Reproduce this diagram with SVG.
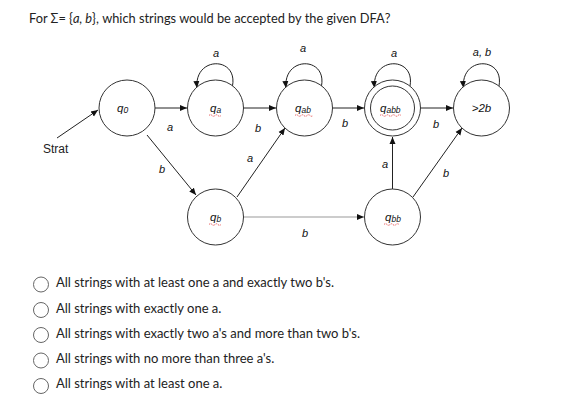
<svg xmlns="http://www.w3.org/2000/svg" width="584" height="418" viewBox="0 0 584 418">
<style>
.st{fill:#fff;stroke:#333;stroke-width:1}
.ed{fill:none;stroke:#222;stroke-width:1}
.lb{font-family:"Liberation Sans",Arial,sans-serif;font-style:italic;font-size:11px;fill:#111}
.nl{font-family:"Liberation Sans",Arial,sans-serif;font-style:italic;font-size:11.5px;fill:#111}
.sub{font-size:8.5px}
.tt{font-family:Lato,"Liberation Sans",sans-serif;font-size:12.8px;fill:#222}
.tx{font-family:Lato,"Liberation Sans",sans-serif;font-size:13px;fill:#222}
.rd{fill:#fff;stroke:#666;stroke-width:1}
.sq{fill:none;stroke:#e03030;stroke-width:0.8;stroke-dasharray:1.2 0.8}
</style>
<defs>
<marker id="ah" markerWidth="8" markerHeight="8" refX="7" refY="4" orient="auto" markerUnits="userSpaceOnUse">
<path d="M0,1 L7,4 L0,7 Z" fill="#111"/>
</marker>
</defs>
<rect width="584" height="418" fill="#fff"/>
<text class="tt" x="29" y="22.5">For Σ= {<tspan font-style="italic">a, b</tspan>}, which strings would be accepted by the given DFA?</text>

<g id="connectors">
<line class="ed" x1="57" y1="138" x2="98" y2="110" marker-end="url(#ah)"/>
<line class="ed" x1="155" y1="108" x2="187" y2="108" marker-end="url(#ah)"/>
<line class="ed" x1="243" y1="108" x2="276" y2="108" marker-end="url(#ah)"/>
<line class="ed" x1="332" y1="108" x2="364" y2="108" marker-end="url(#ah)"/>
<line class="ed" x1="420" y1="108" x2="453" y2="108" marker-end="url(#ah)"/>
<line class="ed" x1="147" y1="135" x2="196" y2="195" marker-end="url(#ah)"/>
<line class="ed" x1="237" y1="197" x2="285" y2="128" marker-end="url(#ah)"/>
<line x1="243" y1="217" x2="364" y2="217" stroke="#bbb" stroke-width="1.5"/>
<path d="M357,214 L364,217 L357,220 Z" fill="#111"/>
<line class="ed" x1="392.5" y1="189" x2="392.5" y2="137" marker-end="url(#ah)"/>
<line class="ed" x1="413" y1="197" x2="462" y2="128" marker-end="url(#ah)"/>
<path class="ed" d="M232.5,86 C238,56 194,56 197,88" marker-end="url(#ah)"/>
<path class="ed" d="M321.5,86 C327,56 283,56 286,88" marker-end="url(#ah)"/>
<path class="ed" d="M410,86 C415.5,56 371.5,56 374.5,88" marker-end="url(#ah)"/>
<path class="ed" d="M499,86 C504.5,56 460.5,56 463.5,88" marker-end="url(#ah)"/>
<text class="lb" x="170" y="131" text-anchor="middle">a</text>
<text class="lb" x="258" y="132" text-anchor="middle">b</text>
<text class="lb" x="345" y="127" text-anchor="middle">b</text>
<text class="lb" x="436" y="128" text-anchor="middle">b</text>
<text class="lb" x="216" y="57" text-anchor="middle">a</text>
<text class="lb" x="303" y="52" text-anchor="middle">a</text>
<text class="lb" x="394" y="57" text-anchor="middle">a</text>
<text class="lb" x="482" y="56" text-anchor="middle">a, b</text>
<text class="lb" x="162" y="173" text-anchor="middle">b</text>
<text class="lb" x="250" y="162" text-anchor="middle">a</text>
<text class="lb" x="305" y="236.5" text-anchor="middle">b</text>
<text class="lb" x="385" y="168" text-anchor="middle">a</text>
<text class="lb" x="446" y="176.5" text-anchor="middle">b</text>
<text x="43" y="153" font-family="Liberation Sans,Arial,sans-serif" font-size="12" fill="#222">Strat</text>
</g>

<g id="q0">
<circle class="st" cx="127" cy="108" r="28"/>
<text class="nl" x="117" y="112">q<tspan class="sub" dy="1">0</tspan></text>
</g>
<g id="qa">
<circle class="st" cx="215.5" cy="108" r="28"/>
<text class="nl" x="210" y="112">q<tspan class="sub" dy="1">a</tspan></text>
<path class="sq" d="M209,115.5 q1.5,-1.5 3,0 t3,0 t3,0 t3,0"/>
</g>
<g id="qab">
<circle class="st" cx="304.5" cy="108" r="28"/>
<text class="nl" x="295" y="112">q<tspan class="sub" dy="1">ab</tspan></text>
<path class="sq" d="M295,115.5 q1.5,-1.5 3,0 t3,0 t3,0 t3,0 t3,0 t3,0"/>
</g>
<g id="qabb">
<circle class="st" cx="392.5" cy="108" r="28"/>
<circle class="st" cx="392.5" cy="108" r="22"/>
<text class="nl" x="380" y="112">q<tspan class="sub" dy="1">abb</tspan></text>
<path class="sq" d="M380,115.5 q1.5,-1.5 3,0 t3,0 t3,0 t3,0 t3,0 t3,0 t3,0"/>
</g>
<g id="gt2b">
<circle class="st" cx="481.5" cy="108" r="28"/>
<text class="nl" x="481.5" y="112" text-anchor="middle" font-size="12.5">&gt;2b</text>
</g>
<g id="qb">
<circle class="st" cx="215.5" cy="217" r="28"/>
<text class="nl" x="210" y="221">q<tspan class="sub" dy="1">b</tspan></text>
<path class="sq" d="M209,224.5 q1.5,-1.5 3,0 t3,0 t3,0 t3,0"/>
</g>
<g id="qbb">
<circle class="st" cx="392.5" cy="217" r="28"/>
<text class="nl" x="385" y="221">q<tspan class="sub" dy="1">bb</tspan></text>
<path class="sq" d="M384,224.5 q1.5,-1.5 3,0 t3,0 t3,0 t3,0 t3,0"/>
</g>

<g id="options">
<circle class="rd" cx="41" cy="284.5" r="7.5"/>
<text class="tx" x="56" y="287">All strings with at least one a and exactly two b's.</text>
<circle class="rd" cx="41" cy="310" r="7.5"/>
<text class="tx" x="56" y="312.5">All strings with exactly one a.</text>
<circle class="rd" cx="41" cy="335" r="7.5"/>
<text class="tx" x="56" y="337.5">All strings with exactly two a's and more than two b's.</text>
<circle class="rd" cx="41" cy="360.5" r="7.5"/>
<text class="tx" x="56" y="362.5">All strings with no more than three a's.</text>
<circle class="rd" cx="41" cy="386" r="7.5"/>
<text class="tx" x="56" y="388">All strings with at least one a.</text>
</g>
</svg>
